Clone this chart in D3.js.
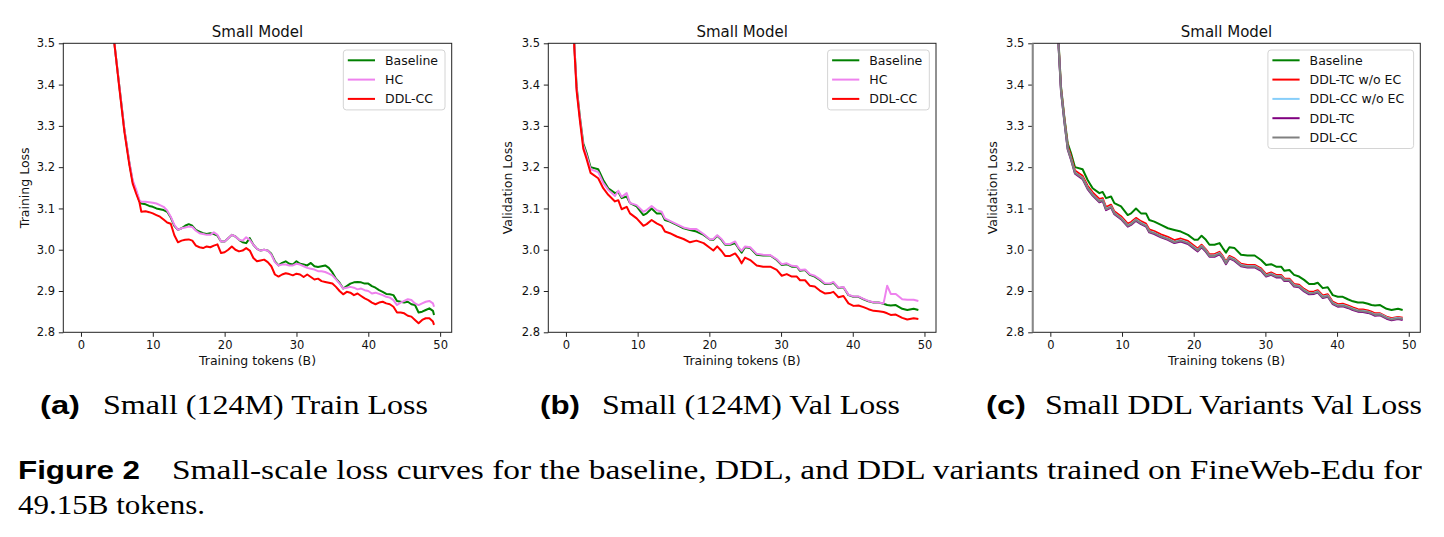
<!DOCTYPE html>
<html>
<head>
<meta charset="utf-8">
<script src="https://cdn.jsdelivr.net/npm/d3@7"></script>
<style>
  body { margin: 0; background: #fff; }
  svg text { font-family: "DejaVu Sans", sans-serif; }
</style>
</head>
<body>
<script>

// training loss
var trainTokens = [4.0, 4.65, 5.35, 6.05, 6.74, 7.2, 7.7, 8.14, 8.4,
  9.0, 9.5, 10.0, 10.5, 11.0, 11.5, 12.0, 12.5, 13.0, 13.5, 14.0, 14.5, 15.0, 15.5, 16.0, 16.5,
  17.0, 17.5, 18.0, 18.5, 19.0, 19.5, 20.0, 20.5, 21.0, 21.5, 22.0, 22.5, 23.0, 23.5, 24.0, 24.5,
  25.0, 25.5, 26.0, 26.5, 27.0, 27.5, 28.0, 28.5, 29.0, 29.5, 30.0, 30.5, 31.0, 31.5, 32.0, 32.5,
  33.0, 33.5, 34.0, 34.5, 35.0, 35.5, 36.0, 36.5, 37.0, 37.5, 38.0, 38.5, 39.0, 39.5, 40.0, 40.5,
  41.0, 41.5, 42.0, 42.5, 43.0, 43.5, 44.0, 44.5, 45.0, 45.5, 46.0, 46.5, 47.0, 47.5, 48.0, 48.5,
  49.0, 49.15];
var trainBaseline = [3.60, 3.50, 3.395, 3.29, 3.21, 3.165, 3.14, 3.117, 3.112,
  3.110, 3.106, 3.104, 3.100, 3.098, 3.096, 3.092, 3.078, 3.058, 3.048, 3.052, 3.058, 3.062, 3.058, 3.048, 3.044,
  3.040, 3.038, 3.040, 3.038, 3.034, 3.020, 3.020, 3.028, 3.036, 3.032, 3.024, 3.018, 3.016, 3.028, 3.012, 3.002,
  2.998, 3.000, 2.998, 2.990, 2.972, 2.962, 2.968, 2.972, 2.966, 2.964, 2.972, 2.966, 2.964, 2.962, 2.968, 2.960,
  2.958, 2.960, 2.962, 2.956, 2.945, 2.930, 2.920, 2.906, 2.912, 2.918, 2.921, 2.922, 2.921, 2.918, 2.918, 2.912,
  2.908, 2.902, 2.898, 2.893, 2.892, 2.890, 2.876, 2.874, 2.872, 2.874, 2.868, 2.866, 2.848, 2.850, 2.854, 2.858,
  2.852, 2.842];
var trainHC = [3.60, 3.50, 3.395, 3.29, 3.212, 3.168, 3.145, 3.12, 3.116,
  3.116, 3.115, 3.114, 3.112, 3.108, 3.104, 3.095, 3.080, 3.060, 3.048, 3.052, 3.054, 3.056, 3.055, 3.046, 3.040,
  3.038, 3.036, 3.036, 3.042, 3.036, 3.020, 3.020, 3.028, 3.036, 3.032, 3.024, 3.022, 3.030, 3.024, 3.012, 3.002,
  2.998, 3.000, 2.998, 2.988, 2.970, 2.962, 2.964, 2.964, 2.962, 2.962, 2.966, 2.964, 2.960, 2.956, 2.954, 2.952,
  2.948, 2.948, 2.946, 2.942, 2.938, 2.928, 2.918, 2.906, 2.908, 2.910, 2.908, 2.904, 2.906, 2.902, 2.900, 2.894,
  2.896, 2.893, 2.890, 2.886, 2.884, 2.878, 2.866, 2.872, 2.876, 2.880, 2.878, 2.870, 2.866, 2.870, 2.874, 2.876,
  2.870, 2.862];
var trainDDLCC = [3.60, 3.50, 3.39, 3.285, 3.205, 3.16, 3.135, 3.115, 3.092,
  3.093, 3.091, 3.088, 3.084, 3.080, 3.073, 3.066, 3.063, 3.035, 3.018, 3.022, 3.024, 3.025, 3.022, 3.010, 3.006,
  3.004, 3.008, 3.006, 3.010, 3.013, 2.992, 2.994, 3.000, 3.008, 3.000, 2.996, 2.998, 3.004, 2.998, 2.980, 2.972,
  2.974, 2.976, 2.970, 2.960, 2.940, 2.935, 2.940, 2.943, 2.941, 2.938, 2.942, 2.940, 2.934, 2.940, 2.934, 2.928,
  2.930, 2.924, 2.922, 2.920, 2.918, 2.910, 2.900, 2.892, 2.898, 2.896, 2.890, 2.894, 2.888, 2.882, 2.878, 2.872,
  2.868, 2.872, 2.874, 2.870, 2.868, 2.862, 2.848, 2.848, 2.846, 2.840, 2.838, 2.830, 2.822, 2.830, 2.834, 2.834,
  2.826, 2.818];

// validation loss (b) and (c)
var valTokens = [0.9, 1.16, 1.49, 1.95, 2.42, 2.88, 3.44, 4.5, 5.2, 5.9, 6.84, 7.3, 7.77, 8.47, 8.93, 9.86,
  10.8, 11.26, 11.95, 12.65, 13.35, 13.8, 14.5, 15.44, 16.4, 17.3, 18.2, 19.2, 20.1, 20.56, 21.1, 21.7,
  22.2, 22.9, 23.6, 24.05, 24.5, 24.98, 25.7, 26.6, 27.5, 28.5, 29.4, 30.1, 30.8, 31.5, 32.2, 32.65,
  33.35, 34.0, 34.7, 35.4, 36.1, 36.8, 37.3, 38.0, 38.7, 39.4, 40.1, 40.8, 41.5, 42.2, 42.9, 43.6,
  44.3, 44.8, 45.3, 46.0, 46.9, 47.6, 48.5, 49.15];
var valBaseline = [3.8, 3.50, 3.395, 3.322, 3.258, 3.234, 3.200, 3.195, 3.169, 3.149, 3.137, 3.140, 3.125, 3.129, 3.113, 3.105,
  3.084, 3.088, 3.100, 3.088, 3.088, 3.072, 3.068, 3.060, 3.052, 3.048, 3.044, 3.036, 3.024, 3.024, 3.034, 3.024,
  3.012, 3.012, 3.016, 3.004, 2.993, 3.006, 3.004, 2.988, 2.986, 2.986, 2.975, 2.963, 2.965, 2.959, 2.959, 2.949,
  2.951, 2.939, 2.935, 2.927, 2.917, 2.917, 2.920, 2.907, 2.909, 2.890, 2.886, 2.886, 2.880, 2.875, 2.872, 2.872,
  2.869, 2.866, 2.865, 2.866, 2.857, 2.854, 2.857, 2.854];
var valHC = [3.8, 3.50, 3.39, 3.318, 3.252, 3.228, 3.195, 3.188, 3.162, 3.145, 3.130, 3.143, 3.128, 3.137, 3.113, 3.108,
  3.092, 3.096, 3.106, 3.096, 3.092, 3.076, 3.070, 3.062, 3.054, 3.050, 3.050, 3.038, 3.025, 3.026, 3.035, 3.026,
  3.014, 3.014, 3.020, 3.006, 2.997, 3.008, 3.006, 2.990, 2.988, 2.987, 2.977, 2.965, 2.967, 2.961, 2.960, 2.951,
  2.952, 2.941, 2.937, 2.929, 2.919, 2.918, 2.922, 2.908, 2.910, 2.891, 2.887, 2.887, 2.881, 2.876, 2.873, 2.872,
  2.870, 2.913, 2.893, 2.893, 2.880, 2.879, 2.879, 2.876];
var valDDLCC = [3.8, 3.49, 3.385, 3.312, 3.245, 3.22, 3.186, 3.173, 3.149, 3.133, 3.117, 3.120, 3.098, 3.104, 3.088, 3.076,
  3.058, 3.062, 3.072, 3.064, 3.058, 3.044, 3.040, 3.032, 3.026, 3.018, 3.022, 3.016, 3.004, 2.998, 3.008, 2.997,
  2.985, 2.985, 2.991, 2.981, 2.967, 2.981, 2.975, 2.962, 2.959, 2.959, 2.951, 2.937, 2.941, 2.935, 2.935, 2.926,
  2.926, 2.913, 2.911, 2.901, 2.894, 2.895, 2.898, 2.885, 2.888, 2.870, 2.864, 2.865, 2.861, 2.856, 2.852, 2.851,
  2.849, 2.846, 2.842, 2.843, 2.835, 2.831, 2.834, 2.832];
var valDDLTCnoEC = [3.8, 3.495, 3.39, 3.318, 3.251, 3.226, 3.192, 3.179, 3.155, 3.139, 3.123, 3.125, 3.103, 3.109, 3.093, 3.081,
  3.063, 3.067, 3.077, 3.069, 3.063, 3.049, 3.045, 3.037, 3.031, 3.023, 3.027, 3.021, 3.009, 3.003, 3.012, 3.001,
  2.989, 2.989, 2.995, 2.985, 2.971, 2.985, 2.979, 2.966, 2.963, 2.963, 2.955, 2.941, 2.945, 2.939, 2.939, 2.930,
  2.930, 2.917, 2.915, 2.905, 2.898, 2.899, 2.902, 2.889, 2.892, 2.874, 2.868, 2.869, 2.865, 2.860, 2.856, 2.855,
  2.853, 2.850, 2.846, 2.846, 2.838, 2.834, 2.837, 2.835];
var valDDLCCnoEC = [3.8, 3.491, 3.386, 3.313, 3.246, 3.221, 3.187, 3.174, 3.150, 3.134, 3.118, 3.121, 3.099, 3.105, 3.089, 3.077,
  3.059, 3.063, 3.073, 3.065, 3.059, 3.045, 3.041, 3.033, 3.027, 3.019, 3.023, 3.017, 3.005, 2.999, 3.009, 2.998,
  2.986, 2.986, 2.992, 2.982, 2.968, 2.982, 2.976, 2.963, 2.960, 2.960, 2.952, 2.938, 2.942, 2.936, 2.936, 2.927,
  2.927, 2.914, 2.912, 2.902, 2.895, 2.896, 2.899, 2.886, 2.889, 2.871, 2.865, 2.866, 2.862, 2.857, 2.853, 2.852,
  2.850, 2.847, 2.843, 2.844, 2.836, 2.832, 2.835, 2.833];
var valDDLTC = [3.8, 3.488, 3.383, 3.310, 3.243, 3.218, 3.184, 3.171, 3.147, 3.131, 3.115, 3.118, 3.096, 3.102, 3.086, 3.074,
  3.056, 3.060, 3.070, 3.062, 3.056, 3.042, 3.038, 3.030, 3.024, 3.016, 3.020, 3.014, 3.002, 2.996, 3.006, 2.995,
  2.983, 2.983, 2.989, 2.979, 2.965, 2.979, 2.973, 2.960, 2.957, 2.957, 2.949, 2.935, 2.939, 2.933, 2.933, 2.924,
  2.924, 2.911, 2.909, 2.899, 2.892, 2.893, 2.896, 2.883, 2.886, 2.868, 2.862, 2.863, 2.859, 2.854, 2.850, 2.849,
  2.847, 2.844, 2.840, 2.841, 2.833, 2.829, 2.832, 2.830];

// axes ticks
var xTicks = [0, 10, 20, 30, 40, 50];
var yTicks = [2.8, 2.9, 3.0, 3.1, 3.2, 3.3, 3.4, 3.5];

var svg = d3.select("body").append("svg")
    .attr("width", 1444)
    .attr("height", 537);

// plot box (same for the three panels)
var plotTop = 43.3, plotBottom = 332.3;
var xDomain = [-2.46, 51.61];

function drawPanel(p) {
  var x = d3.scaleLinear().domain(xDomain).range([p.left, p.right]);
  var y = d3.scaleLinear().domain([2.8, 3.5]).range([plotBottom, plotTop]);
  var g = svg.append("g");

  g.append("clipPath").attr("id", p.id)
    .append("rect")
      .attr("x", p.left).attr("y", plotTop)
      .attr("width", p.right - p.left).attr("height", plotBottom - plotTop);

  var line = d3.line()
      .x(function(d) { return x(d[0]); })
      .y(function(d) { return y(d[1]); });

  p.series.forEach(function(s) {
    var pts = p.tokens.map(function(t, i) { return [t, s.values[i]]; });
    g.append("path")
      .datum(pts)
      .attr("clip-path", "url(#" + p.id + ")")
      .attr("fill", "none")
      .attr("stroke", s.color)
      .attr("stroke-width", 2)
      .attr("stroke-linejoin", "round")
      .attr("d", line);
  });

  // x axis
  var ax = g.append("g")
      .attr("transform", "translate(0," + plotBottom + ")")
      .call(d3.axisBottom(x).tickValues(xTicks).tickSize(4.5).tickPadding(4.5).tickFormat(d3.format("d")));
  // y axis
  var ay = g.append("g")
      .attr("transform", "translate(" + p.left + ",0)")
      .call(d3.axisLeft(y).tickValues(yTicks).tickSize(4.5).tickPadding(3.8).tickFormat(d3.format(".1f")));
  [ax, ay].forEach(function(a) {
    a.select(".domain").remove();
    a.selectAll("line").attr("stroke", "#222").attr("stroke-width", 1);
    a.selectAll("text").attr("fill", "#111").style("font-size", "11.5px")
      .style("font-family", "DejaVu Sans");
  });

  // frame
  g.append("rect")
    .attr("x", p.left).attr("y", plotTop)
    .attr("width", p.right - p.left).attr("height", plotBottom - plotTop)
    .attr("fill", "none").attr("stroke", "#222").attr("stroke-width", 1);
  if (p.leftSpine) {
    g.append("line")
      .attr("x1", p.left).attr("x2", p.left).attr("y1", plotTop).attr("y2", plotBottom)
      .attr("stroke", p.leftSpine).attr("stroke-width", 2);
  }

  g.append("text")
    .attr("x", (p.left + p.right) / 2).attr("y", 37.3)
    .attr("text-anchor", "middle").style("font-size", "15px").attr("fill", "#111")
    .text("Small Model");
  g.append("text")
    .attr("x", (p.left + p.right) / 2).attr("y", 365)
    .attr("text-anchor", "middle").style("font-size", "12.5px").attr("fill", "#111")
    .text("Training tokens (B)");
  g.append("text")
    .attr("transform", "translate(" + p.ylabelX + "," + ((plotTop + plotBottom) / 2) + ") rotate(-90)")
    .attr("text-anchor", "middle").attr("dy", "0.35em").style("font-size", "12.5px").attr("fill", "#111")
    .text(p.ylabel);

  // legend
  var lw = p.legendWidth, lx = p.right - 6.7 - lw, ly = plotTop + 6.7;
  var lh = p.series.length * 19.3 + 2;
  var leg = g.append("g");
  leg.append("rect")
    .attr("x", lx).attr("y", ly).attr("width", lw).attr("height", lh)
    .attr("rx", 3).attr("fill", "#fff").attr("fill-opacity", 0.8)
    .attr("stroke", "#d4d4d4").attr("stroke-width", 1);
  p.series.forEach(function(s, i) {
    var yy = ly + 10.3 + i * 19.3;
    leg.append("line")
      .attr("x1", lx + 4.5).attr("x2", lx + 31.7).attr("y1", yy).attr("y2", yy)
      .attr("stroke", s.color).attr("stroke-width", 2);
    leg.append("text")
      .attr("x", lx + 41.7).attr("y", yy).attr("dy", "0.36em")
      .style("font-size", "12.5px").attr("fill", "#111")
      .text(s.name);
  });
}

drawPanel({
  id: "clipA", left: 63.3, right: 451.7, ylabelX: 25, ylabel: "Training Loss",
  tokens: trainTokens, legendWidth: 101.7,
  series: [
    {name: "Baseline", color: "green", values: trainBaseline},
    {name: "HC", color: "violet", values: trainHC},
    {name: "DDL-CC", color: "red", values: trainDDLCC}
  ]
});

drawPanel({
  id: "clipB", left: 548.3, right: 936, ylabelX: 508, ylabel: "Validation Loss",
  tokens: valTokens, legendWidth: 101.7,
  series: [
    {name: "Baseline", color: "green", values: valBaseline},
    {name: "HC", color: "violet", values: valHC},
    {name: "DDL-CC", color: "red", values: valDDLCC}
  ]
});

drawPanel({
  id: "clipC", left: 1032.7, right: 1420.3, ylabelX: 993, ylabel: "Validation Loss",
  tokens: valTokens, legendWidth: 145.7, leftSpine: "#888",
  series: [
    {name: "Baseline", color: "green", values: valBaseline},
    {name: "DDL-TC w/o EC", color: "red", values: valDDLTCnoEC},
    {name: "DDL-CC w/o EC", color: "lightskyblue", values: valDDLCCnoEC},
    {name: "DDL-TC", color: "purple", values: valDDLTC},
    {name: "DDL-CC", color: "gray", values: valDDLCC}
  ]
});

// sub captions
var subCaps = [
  {tag: "(a)", tx: 40, text: "Small (124M) Train Loss", x: 103, w: 325},
  {tag: "(b)", tx: 540, text: "Small (124M) Val Loss", x: 602, w: 298},
  {tag: "(c)", tx: 986, text: "Small DDL Variants Val Loss", x: 1045, w: 377}
];
subCaps.forEach(function(c) {
  svg.append("text")
    .attr("x", c.tx).attr("y", 414)
    .style("font-family", "Liberation Sans").style("font-weight", "bold").style("font-size", "26px")
    .attr("textLength", 40).attr("lengthAdjust", "spacingAndGlyphs")
    .text(c.tag);
  svg.append("text")
    .attr("x", c.x).attr("y", 414)
    .style("font-family", "Liberation Serif").style("font-size", "27px")
    .attr("textLength", c.w).attr("lengthAdjust", "spacingAndGlyphs")
    .text(c.text);
});

// figure caption
svg.append("text")
  .attr("x", 18).attr("y", 479)
  .style("font-family", "Liberation Sans").style("font-weight", "bold").style("font-size", "26px")
  .attr("textLength", 122).attr("lengthAdjust", "spacingAndGlyphs")
  .text("Figure 2");
svg.append("text")
  .attr("x", 172).attr("y", 479)
  .style("font-family", "Liberation Serif").style("font-size", "27px")
  .attr("textLength", 1250).attr("lengthAdjust", "spacingAndGlyphs")
  .text("Small-scale loss curves for the baseline, DDL, and DDL variants trained on FineWeb-Edu for");
svg.append("text")
  .attr("x", 18).attr("y", 514)
  .style("font-family", "Liberation Serif").style("font-size", "27px")
  .attr("textLength", 187).attr("lengthAdjust", "spacingAndGlyphs")
  .text("49.15B tokens.");

</script>
</body>
</html>
